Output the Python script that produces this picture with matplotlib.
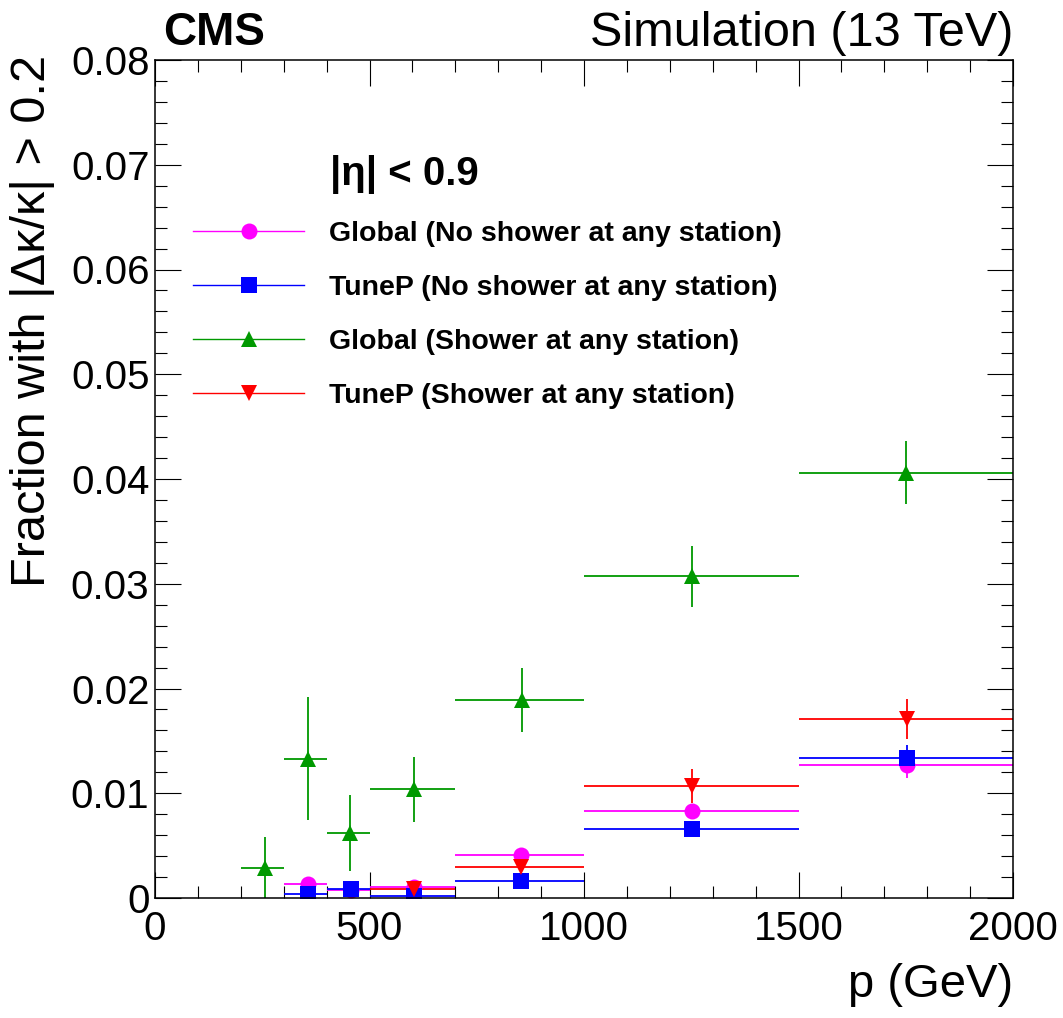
import matplotlib
matplotlib.use('Agg')
import matplotlib.pyplot as plt
from matplotlib.lines import Line2D
from matplotlib.ticker import MultipleLocator

plt.rcParams['font.family'] = ['Liberation Sans', 'DejaVu Sans']

# momentum bins (GeV)
bin_lo_sh = [200, 300, 400, 500, 700, 1000, 1500]
bin_hi_sh = [300, 400, 500, 700, 1000, 1500, 2000]
bin_lo = [300, 400, 500, 700, 1000, 1500]
bin_hi = [400, 500, 700, 1000, 1500, 2000]

# Global, no shower
p_glb = [357, 457, 604, 853, 1252, 1752]
frac_glb = [0.0013, 0.0008, 0.00105, 0.0041, 0.0083, 0.0127]
err_glb = [0.0003, 0.0003, 0.0003, 0.0005, 0.0007, 0.0012]

# TuneP, no shower
p_tunep = [357, 457, 604, 853, 1252, 1752]
frac_tunep = [0.0004, 0.00085, 0.0002, 0.0016, 0.0066, 0.0134]
err_tunep = [0.0002, 0.0003, 0.0002, 0.0004, 0.0007, 0.0012]

# Global, shower
p_glb_sh = [256, 357, 455, 604, 855, 1252, 1750]
frac_glb_sh = [0.0029, 0.0133, 0.0062, 0.0104, 0.0189, 0.0307, 0.0406]
err_glb_sh = [0.0029, 0.0059, 0.0036, 0.0031, 0.0031, 0.0029, 0.0030]

# TuneP, shower (from 500 GeV)
p_tunep_sh = [604, 853, 1252, 1752]
frac_tunep_sh = [0.00086, 0.0030, 0.0107, 0.0171]
err_tunep_sh = [0.0003, 0.0006, 0.0016, 0.0019]

labels = ['Global (No shower at any station)', 'TuneP (No shower at any station)',
          'Global (Shower at any station)', 'TuneP (Shower at any station)']
colors = ['#ff00ff', '#0000ff', '#009900', '#ff0000']
markers = ['o', 's', '^', 'v']
msizes = [11.5, 12, 12, 12]

series = [
    (p_glb, frac_glb, err_glb, bin_lo, bin_hi),
    (p_tunep, frac_tunep, err_tunep, bin_lo, bin_hi),
    (p_glb_sh, frac_glb_sh, err_glb_sh, bin_lo_sh, bin_hi_sh),
    (p_tunep_sh, frac_tunep_sh, err_tunep_sh, bin_lo[2:], bin_hi[2:]),
]

fig = plt.figure(figsize=(10.63, 10.18), dpi=100)
ax = fig.add_axes([155/1063, 1-898/1018, 858/1063, 838/1018])

handles = []
for (x, y, e, lo, hi), c, m, ms, lab in zip(series, colors, markers, msizes, labels):
    xerr = [[xi - l for xi, l in zip(x, lo)], [h - xi for xi, h in zip(x, hi)]]
    ax.errorbar(x, y, yerr=e, xerr=xerr, fmt=m, color=c, ms=ms, mew=0,
                elinewidth=1.3, capsize=0)
    handles.append(Line2D([], [], color=c, marker=m, ms=ms, mew=0, lw=1.0, label=lab))

ax.set_xlim(0, 2000)
ax.set_ylim(0, 0.08)
ax.xaxis.set_major_locator(MultipleLocator(500))
ax.xaxis.set_minor_locator(MultipleLocator(100))
ax.yaxis.set_major_locator(MultipleLocator(0.01))
ax.yaxis.set_minor_locator(MultipleLocator(0.002))
ax.yaxis.set_major_formatter(plt.FuncFormatter(lambda v, p: '0' if v == 0 else f'{v:.2f}'))
ax.tick_params(which='both', direction='in', top=True, right=True, width=0.8, labelsize=29)
ax.tick_params(which='major', length=18.7)
ax.tick_params(which='minor', length=8.6)
ax.tick_params(axis='x', pad=9)
ax.tick_params(axis='y', pad=4)
for s in ax.spines.values():
    s.set_linewidth(1.1)

ax.set_xlabel('p (GeV)', fontsize=34, ha='right', va='center')
ax.xaxis.set_label_coords(1.0, -(985-898)/838)
ax.set_ylabel('Fraction with |Δκ/κ| > 0.2', fontsize=35, ha='right', va='center')
ax.yaxis.set_label_coords(-(155-33)/858, 1.0 + 5/838)

ax.text((330-155)/858, (898-175)/838, '|η| < 0.9', transform=ax.transAxes,
        fontsize=29, fontweight='bold', ha='left', va='center')
ax.legend(handles=handles, loc='upper left', bbox_to_anchor=((193-155)/858, (898-221)/838),
          frameon=False, borderpad=0, borderaxespad=0, handlelength=3.9,
          handletextpad=0.88, labelspacing=0.98, prop={'size': 20.5, 'weight': 'bold'})

fig.text(163/1063, 1-45/1018, 'CMS', fontsize=33, fontweight='bold', ha='left', va='baseline')
fig.text(1013/1063, 1-46/1018, 'Simulation (13 TeV)', fontsize=35, ha='right', va='baseline')

fig.savefig('out.png', dpi=100)
